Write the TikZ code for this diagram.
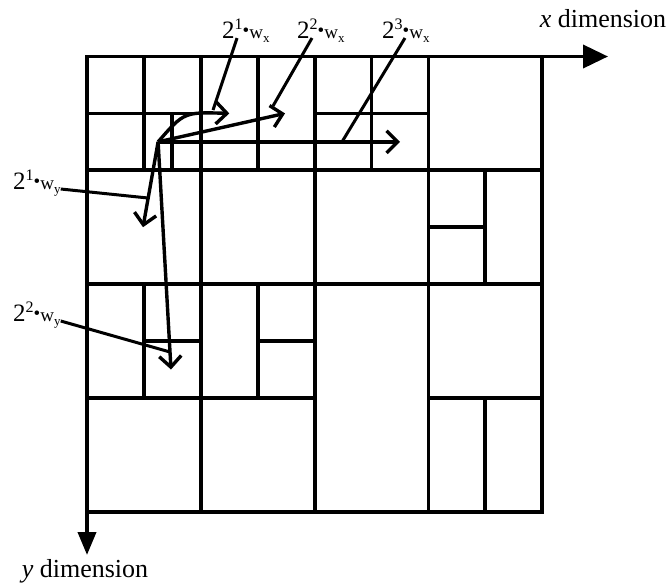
\documentclass[tikz,border=0pt]{standalone}
\usepackage{fontspec}
\setmainfont{Liberation Serif}
\usetikzlibrary{arrows.meta}
\tikzset{
  cellline/.style={line width=3.8pt, line cap=rect},
  axisline/.style={line width=3.8pt},
  vecarrow/.style={-{Straight Barb[length=11pt,width=22pt]}, line width=3.4pt},
  leader/.style={line width=3pt},
  steptext/.style={inner sep=0pt, font=\fontsize{25pt}{28pt}\selectfont},
  dimtext/.style={inner sep=0pt, font=\fontsize{26pt}{30pt}\selectfont},
}
\newcommand{\steplab}[2]{2\raisebox{9pt}{\fontsize{16pt}{16pt}\selectfont #1}{\fontsize{19pt}{19pt}\selectfont\raisebox{2pt}{\textbullet}w\raisebox{-4pt}{\fontsize{13pt}{13pt}\selectfont #2}}}

\begin{document}
\begin{tikzpicture}[x=1pt, y=-1pt]
\useasboundingbox (0,0) rectangle (671,582);

\begin{scope}[shift={(87,56.5)}, x=56.9pt, y=-56.9pt]
\draw[cellline] (0,0) rectangle (8,8);
\foreach \y/\a/\b in {1/0/2, 1/4/6, 2/0/8, 3/6/7, 4/0/8, 5/1/2, 5/3/4, 6/0/4, 6/6/8}
  \draw[cellline] (\a,\y) -- (\b,\y);
\foreach \x/\a/\b in {1/0/2, 1/4/6, 1.5/1/2, 2/0/8, 3/0/2, 3/4/6, 4/0/8, 5/0/2, 6/0/8, 7/2/4, 7/6/8}
  \draw[cellline] (\x,\a) -- (\x,\b);
\end{scope}

\coordinate (orig) at (87,56.5);
\coordinate (xend) at (608,56.5);
\coordinate (yend) at (87,555);
\draw[axisline, -{Triangle[length=25pt,width=23pt]}] (orig) -- (xend);
\draw[axisline, -{Triangle[length=23pt,width=18pt]}] (orig) -- (yend);
\node[dimtext, anchor=base] (xlab) at (603,27.5) {\textit{x} dimension};
\node[dimtext, anchor=base] (ylab) at (85,577) {\textit{y} dimension};

\coordinate (o) at (158.1,141.85);
\coordinate (t1) at (229.3,113.4);
\coordinate (t2) at (285,113.4);
\coordinate (t3) at (400,141.85);
\coordinate (t4) at (143,227.2);
\coordinate (t5) at (171,369.5);
\draw[vecarrow] (o) .. controls (184,112) .. (t1);
\draw[vecarrow] (o) -- (t2);
\draw[vecarrow] (o) -- (t3);
\draw[vecarrow] (o) -- (t4);
\draw[vecarrow] (o) -- (t5);

\node[steptext, anchor=base west] (l1) at (222,38) {\steplab{1}{x}};
\node[steptext, anchor=base west] (l2) at (297,38) {\steplab{2}{x}};
\node[steptext, anchor=base west] (l3) at (382,38) {\steplab{3}{x}};
\node[steptext, anchor=base west] (l4) at (13,189) {\steplab{1}{y}};
\node[steptext, anchor=base west] (l5) at (13,321) {\steplab{2}{y}};

\coordinate (e1) at (213,110);
\coordinate (e2) at (273,106);
\coordinate (e3) at (342,141.85);
\coordinate (e4) at (148,198);
\coordinate (e5) at (170,352);
\draw[leader] ([xshift=15pt]l1.base west) -- (e1);
\draw[leader] ([xshift=15pt]l2.base west) -- (e2);
\draw[leader] ([xshift=23pt]l3.base west) -- (e3);
\draw[leader] (l4.base east) -- (e4);
\draw[leader] (l5.base east) -- (e5);
\end{tikzpicture}
\end{document}
